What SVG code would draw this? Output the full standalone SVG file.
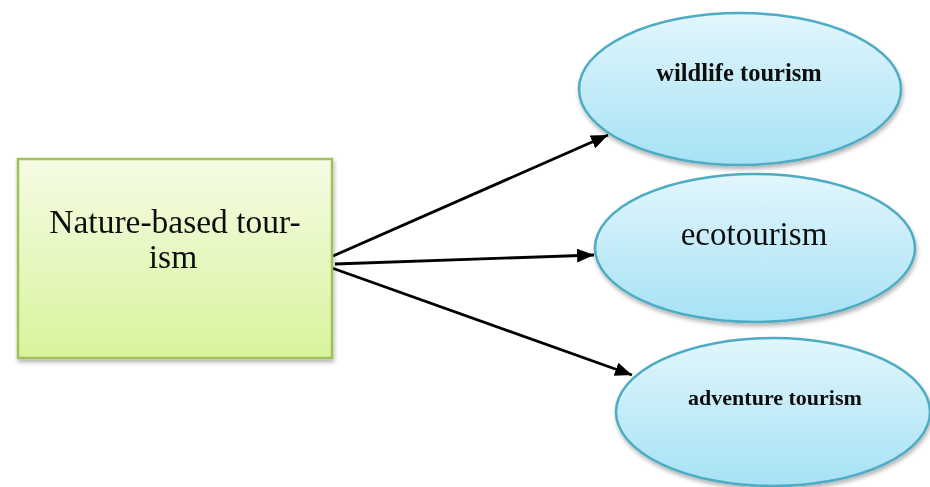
<svg xmlns="http://www.w3.org/2000/svg" width="930" height="487" viewBox="0 0 930 487">
<defs>
<linearGradient id="gGreen" x1="0" y1="0" x2="0" y2="1">
<stop offset="0" stop-color="#f5fbe4"/>
<stop offset="1" stop-color="#d8f49c"/>
</linearGradient>
<linearGradient id="gBlue" x1="0" y1="0" x2="0" y2="1">
<stop offset="0" stop-color="#e2f6fc"/>
<stop offset="1" stop-color="#a6e2f5"/>
</linearGradient>
<filter id="sh" x="-10%" y="-10%" width="125%" height="130%">
<feGaussianBlur in="SourceAlpha" stdDeviation="2"/>
<feOffset dx="1" dy="3"/>
<feComponentTransfer><feFuncA type="linear" slope="0.3"/></feComponentTransfer>
<feMerge><feMergeNode/><feMergeNode in="SourceGraphic"/></feMerge>
</filter>
<marker id="arr" viewBox="0 0 17 14" refX="17" refY="7" markerWidth="17" markerHeight="14" markerUnits="userSpaceOnUse" orient="auto">
<path d="M0,0 L17,7 L0,14 z" fill="#000"/>
</marker>
</defs>
<style>
.rect{fill:url(#gGreen);stroke:#9fc15a;stroke-width:2.5}
.ell{fill:url(#gBlue);stroke:#4eabc4;stroke-width:2.5}
.t{font-family:"Liberation Serif","Times New Roman",serif;fill:#111;text-anchor:middle}
.b{font-weight:bold}
.edge{stroke:#000;stroke-width:2.8;fill:none;marker-end:url(#arr)}
</style>
<rect width="930" height="487" fill="#fff"/>
<g id="connectors">
<line class="edge" x1="333" y1="256" x2="608" y2="135"/>
<line class="edge" x1="335" y1="264" x2="594" y2="255"/>
<line class="edge" x1="332" y1="268" x2="632" y2="375"/>
</g>
<g id="nature" filter="url(#sh)">
<rect class="rect" x="18" y="159" width="314" height="199"/>
<text class="t" x="175" y="233" font-size="33.5">Nature-based tour-</text>
<text class="t" x="173" y="268" font-size="33.5">ism</text>
</g>
<g id="wildlife" filter="url(#sh)">
<ellipse class="ell" cx="740" cy="89" rx="161" ry="76"/>
<text class="t b" x="739" y="81" font-size="24.5">wildlife tourism</text>
</g>
<g id="ecotourism" filter="url(#sh)">
<ellipse class="ell" cx="755" cy="248" rx="160" ry="74"/>
<text class="t" x="754" y="245" font-size="33">ecotourism</text>
</g>
<g id="adventure" filter="url(#sh)">
<ellipse class="ell" cx="773" cy="412" rx="157" ry="74"/>
<text class="t b" x="775" y="405" font-size="22">adventure tourism</text>
</g>
</svg>
